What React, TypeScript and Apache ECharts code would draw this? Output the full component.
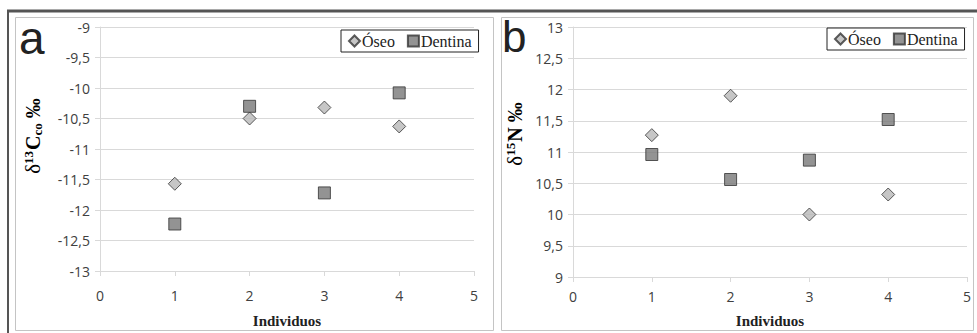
import React, { useEffect, useRef } from "react";
import * as echarts from "echarts";

const individuals = [1, 2, 3, 4];
const carbonOseo = [-11.57, -10.5, -10.32, -10.63];
const carbonDentina = [-12.23, -10.3, -11.72, -10.08];
const nitrogenOseo = [11.27, 11.9, 10.0, 10.32];
const nitrogenDentina = [10.96, 10.56, 10.87, 11.52];
const seriesNames = ["Óseo", "Dentina"];

const fmt = (v: number) => String(v).replace(".", ",");

export default function App() {
  const ref = useRef<HTMLDivElement>(null);
  useEffect(() => {
    document.body.style.margin = "0";
    const chart = echarts.init(ref.current!, null, { renderer: "svg" });
    const axisLabel = { fontFamily: "Open Sans, Liberation Sans, sans-serif", fontSize: 14, color: "#404040" };
    const gridLine = { lineStyle: { color: "#d9d9d9", width: 1 } };
    const xAxisBase = (gridIndex: number, margin: number, gap: number) => ({
      type: "value",
      gridIndex,
      min: 0,
      max: 5,
      interval: 1,
      splitLine: { show: false },
      axisLine: { show: true, lineStyle: { color: "#d9d9d9" } },
      axisTick: { show: true, length: 5, lineStyle: { color: "#d9d9d9" } },
      axisLabel: { ...axisLabel, margin },
      name: "Individuos",
      nameLocation: "middle",
      nameGap: gap,
      nameTextStyle: { fontFamily: "Liberation Serif, serif", fontWeight: "bold", fontSize: 15, color: "#222" },
    });
    const yAxisBase = (gridIndex: number, min: number, max: number) => ({
      type: "value",
      gridIndex,
      min,
      max,
      interval: 0.5,
      splitLine: { show: true, ...gridLine },
      axisLine: { show: true, lineStyle: { color: "#d9d9d9" } },
      axisTick: { show: true, length: 5, lineStyle: { color: "#d9d9d9" } },
      axisLabel: { ...axisLabel, margin: 10, formatter: (v: number) => fmt(v) },
    });
    const serif = "Liberation Serif, serif";
    const titleRich = {
      d: { fontFamily: serif, fontSize: 21, color: "#222" },
      base: { fontFamily: serif, fontWeight: "bold", fontSize: 20, color: "#222" },
      sup: { fontFamily: serif, fontWeight: "bold", fontSize: 13, color: "#222", padding: [0, 1, 9, 0] },
      sub: { fontFamily: serif, fontWeight: "bold", fontSize: 13, color: "#222", padding: [8, 0, 0, 0] },
    };
    const oseoStyle = { color: "#b8b8b8", borderColor: "#333", borderWidth: 1 };
    const dentStyle = { color: "#787878", borderColor: "#333", borderWidth: 1 };
    const mk = (vals: number[]) => individuals.map((x, i) => [x, vals[i]]);
    const legendBase = (left: number, top: number) => ({
      left,
      top,
      data: [
        { name: seriesNames[0], icon: "diamond" },
        { name: seriesNames[1], icon: "rect" },
      ],
      orient: "horizontal",
      itemWidth: 11,
      itemHeight: 11,
      itemGap: 12,
      padding: [3, 7, 3, 7],
      borderColor: "#222",
      borderWidth: 1,
      backgroundColor: "#fff",
      selectedMode: false,
      textStyle: { fontFamily: serif, fontSize: 16, color: "#222", padding: [0, 0, 0, -3] },
    });
    chart.setOption({
      animation: false,
      backgroundColor: "#fff",
      grid: [
        { left: 100, top: 27, width: 374, height: 248 },
        { left: 573, top: 27, width: 394, height: 254 },
      ],
      xAxis: [xAxisBase(0, 17, 42), xAxisBase(1, 12, 36)],
      yAxis: [yAxisBase(0, -13, -9), yAxisBase(1, 9, 13)],
      legend: [legendBase(341, 30), legendBase(827, 28)],
      series: [
        { name: seriesNames[0], type: "scatter", xAxisIndex: 0, yAxisIndex: 0, symbol: "diamond", symbolSize: 13, itemStyle: oseoStyle, data: mk(carbonOseo) },
        { name: seriesNames[1], type: "scatter", xAxisIndex: 0, yAxisIndex: 0, symbol: "rect", symbolSize: 12, itemStyle: dentStyle, data: mk(carbonDentina) },
        { name: seriesNames[0], type: "scatter", xAxisIndex: 1, yAxisIndex: 1, symbol: "diamond", symbolSize: 13, itemStyle: oseoStyle, data: mk(nitrogenOseo) },
        { name: seriesNames[1], type: "scatter", xAxisIndex: 1, yAxisIndex: 1, symbol: "rect", symbolSize: 12, itemStyle: dentStyle, data: mk(nitrogenDentina) },
      ],
      graphic: [
        { type: "rect", shape: { x: 15.5, y: 17.5, width: 478, height: 313 }, style: { fill: "none", stroke: "#c4c4c4", lineWidth: 1 }, z: -1 },
        { type: "rect", shape: { x: 501.5, y: 17.5, width: 472, height: 313 }, style: { fill: "none", stroke: "#c4c4c4", lineWidth: 1 }, z: -1 },
        { type: "line", shape: { x1: 7, y1: 11, x2: 977, y2: 11 }, style: { stroke: "#555", lineWidth: 3 } },
        { type: "line", shape: { x1: 8, y1: 10, x2: 8, y2: 333 }, style: { stroke: "#555", lineWidth: 2 } },
        { type: "text", left: 19, top: 15, style: { text: "a", fontFamily: "Liberation Sans, sans-serif", fontSize: 46, fill: "#222" } },
        { type: "text", left: 502, top: 14, style: { text: "b", fontFamily: "Liberation Sans, sans-serif", fontSize: 44, fill: "#222" } },
        {
          type: "text", x: 33, y: 136, rotation: Math.PI / 2,
          style: { text: "{d|δ}{sup|13}{base|C}{sub|co}{base| ‰}", rich: titleRich, align: "center", verticalAlign: "middle" },
        },
        {
          type: "text", x: 515, y: 134, rotation: Math.PI / 2,
          style: { text: "{d|δ}{sup|15}{base|N ‰}", rich: titleRich, align: "center", verticalAlign: "middle" },
        },
      ],
    });
    return () => chart.dispose();
  }, []);
  return <div ref={ref} style={{ width: 977, height: 333 }} />;
}
